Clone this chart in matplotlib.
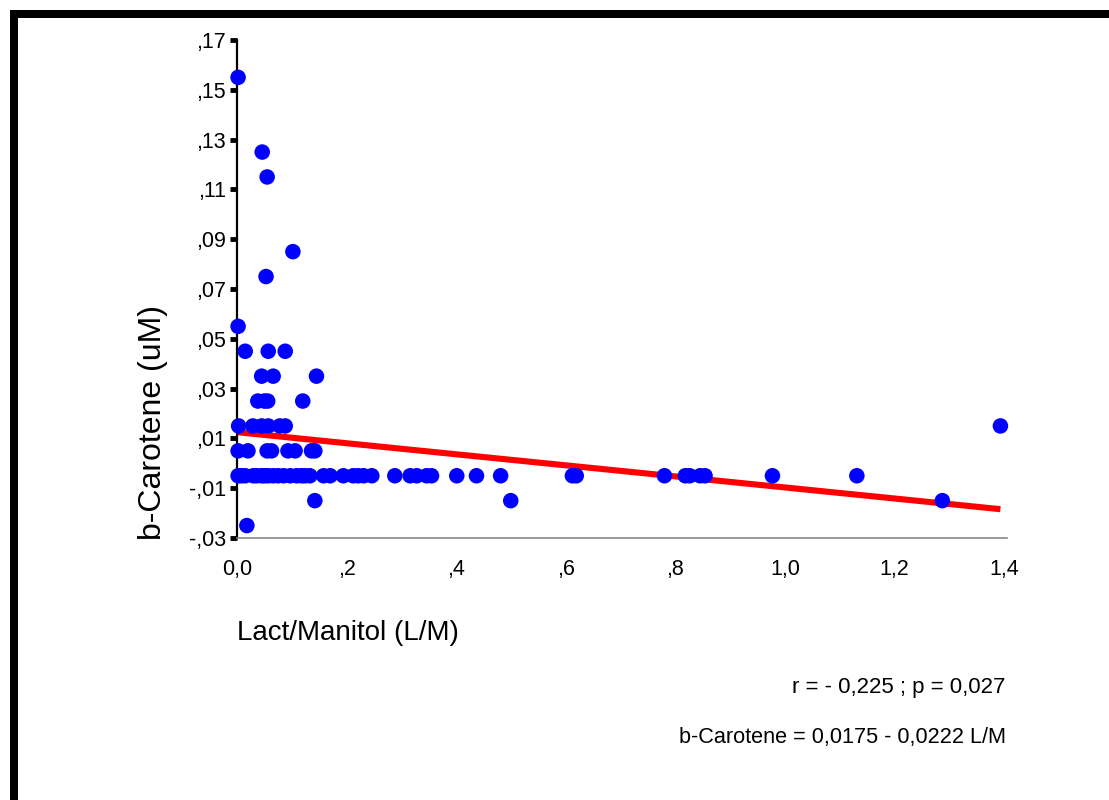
"""Scatter of b-Carotene vs lactulose/mannitol ratio with fitted line."""

import matplotlib

matplotlib.use("Agg")
import matplotlib.pyplot as plt  # noqa: E402
import numpy as np  # noqa: E402

plt.rcParams["font.family"] = ["Liberation Sans", "DejaVu Sans"]

# observed points (L/M ratio, b-Carotene uM)
LM = [
    0.002, 0.046, 0.055, 0.102, 0.053,
    0.002,
    0.015, 0.057, 0.088,
    0.045, 0.066, 0.145,
    0.038, 0.050, 0.056, 0.120,
    0.003, 0.029, 0.045, 0.057, 0.078, 0.088,
    0.002, 0.020, 0.055, 0.063, 0.093, 0.106, 0.136, 0.142,
    0.002, 0.008, 0.015, 0.030, 0.036, 0.045, 0.050, 0.057, 0.066, 0.075,
    0.085, 0.097, 0.109, 0.118, 0.124, 0.133, 0.158, 0.170, 0.194, 0.212,
    0.221, 0.231, 0.246, 0.288, 0.316, 0.328, 0.346, 0.355, 0.401, 0.437,
    0.481, 0.612, 0.619, 0.780, 0.818, 0.826, 0.845, 0.854, 0.977, 1.131,
    0.142, 0.4995, 1.287,
    0.018,
    1.393,
]
BCAR = [
    0.155, 0.125, 0.115, 0.085, 0.075,
    0.055,
    0.045, 0.045, 0.045,
    0.035, 0.035, 0.035,
    0.025, 0.025, 0.025, 0.025,
    0.015, 0.015, 0.015, 0.015, 0.015, 0.015,
    0.005, 0.005, 0.005, 0.005, 0.005, 0.005, 0.005, 0.005,
    -0.005, -0.005, -0.005, -0.005, -0.005, -0.005, -0.005, -0.005, -0.005, -0.005,
    -0.005, -0.005, -0.005, -0.005, -0.005, -0.005, -0.005, -0.005, -0.005, -0.005,
    -0.005, -0.005, -0.005, -0.005, -0.005, -0.005, -0.005, -0.005, -0.005, -0.005,
    -0.005, -0.005, -0.005, -0.005, -0.005, -0.005, -0.005, -0.005, -0.005, -0.005,
    -0.015, -0.015, -0.015,
    -0.025,
    0.015,
]

# fitted line as drawn
FIT_X = [0.0, 1.393]
FIT_INTERCEPT = 0.0125
FIT_SLOPE = -0.0222

XTICKS = [0.0, 0.2, 0.4, 0.6, 0.8, 1.0, 1.2, 1.4]
XTICKLABELS = ["0,0", ",2", ",4", ",6", ",8", "1,0", "1,2", "1,4"]
YTICKS = [-0.03, -0.01, 0.01, 0.03, 0.05, 0.07, 0.09, 0.11, 0.13, 0.15, 0.17]
YTICKLABELS = ["-,03", "-,01", ",01", ",03", ",05", ",07", ",09", ",11", ",13", ",15", ",17"]

fig = plt.figure(figsize=(11.09, 8.0), dpi=100)

# thick black frame at top and left
fig.add_artist(plt.Rectangle((0.009, 1 - 18 / 800), 1.0, 8 / 800, transform=fig.transFigure,
                             color="black", lw=0))
fig.add_artist(plt.Rectangle((10 / 1109, 0.0), 8 / 1109, 1 - 10 / 800, transform=fig.transFigure,
                             color="black", lw=0))

ax = fig.add_axes([237 / 1109, 1 - 538 / 800, 770 / 1109, 498 / 800])
ax.set_xlim(0, 1.405)
ax.set_ylim(-0.0292, 0.17)

fx = np.array(FIT_X)
ax.plot(fx, FIT_INTERCEPT + FIT_SLOPE * fx, color="red", lw=4.4, solid_capstyle="butt", zorder=2)
ax.scatter(LM, BCAR, s=125, color="#0000ff", edgecolors="none", zorder=3, clip_on=False)

ax.set_xticks(XTICKS)
ax.set_xticklabels(XTICKLABELS, fontsize=15.5)
ax.set_yticks(YTICKS)
ax.set_yticklabels(YTICKLABELS, fontsize=15.5)
ax.tick_params(axis="x", length=0, pad=15)
ax.tick_params(axis="y", length=5, width=3.5, color="black", pad=3)

for side in ("top", "right"):
    ax.spines[side].set_visible(False)
ax.spines["left"].set_color("black")
ax.spines["left"].set_linewidth(1.6)
ax.spines["bottom"].set_color("#888888")
ax.spines["bottom"].set_linewidth(1.2)

fig.text(153 / 1109, 1 - 422 / 800, "b-Carotene (uM)", rotation=90, ha="center", va="center",
         fontsize=23)
fig.text(237 / 1109, 1 - 633 / 800, "Lact/Manitol (L/M)", ha="left", va="center", fontsize=20)
fig.text(1005 / 1109, 1 - 688 / 800, "r = - 0,225 ; p = 0,027", ha="right", va="center",
         fontsize=16)
fig.text(1006 / 1109, 1 - 738 / 800, "b-Carotene = 0,0175 - 0,0222 L/M", ha="right",
         va="center", fontsize=15.6)

fig.savefig("out.png", dpi=100)
